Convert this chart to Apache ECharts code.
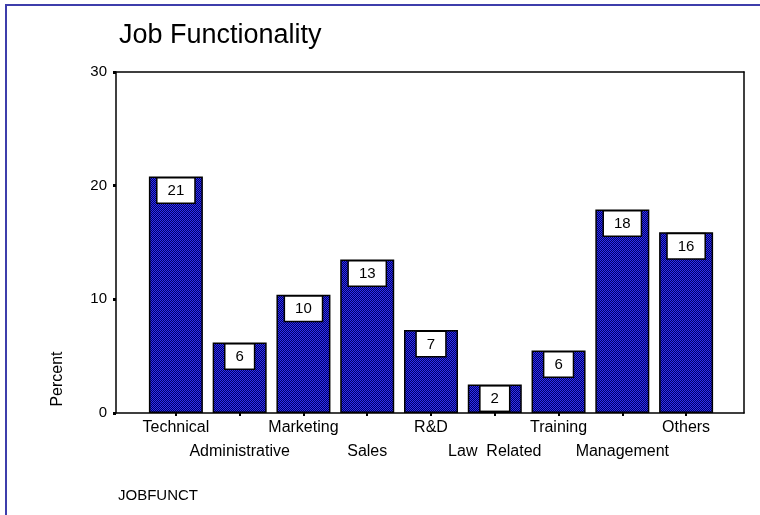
<!DOCTYPE html>
<html>
<head>
<meta charset="utf-8">
<script src="https://cdn.jsdelivr.net/npm/echarts@6/dist/echarts.min.js"></script>
<style>
  html, body { margin: 0; padding: 0; background: #fff; }
  #chart { width: 760px; height: 515px; }
</style>
</head>
<body>
<div id="chart"></div>
<script>
  // data
  var categories = ['Technical', 'Administrative', 'Marketing', 'Sales', 'R&D', 'Law  Related', 'Training', 'Management', 'Others'];
  var percents = [20.8, 6.2, 10.4, 13.5, 7.3, 2.5, 5.5, 17.9, 15.9];
  var shownLabels = ['21', '6', '10', '13', '7', '2', '6', '18', '16'];
  var yTicks = [0, 10, 20, 30];

  var font = 'Liberation Sans, Arial, sans-serif';

  // checkered blue fill like the old SPSS hatch
  var pat = document.createElement('canvas');
  pat.width = 2; pat.height = 2;
  var ctx = pat.getContext('2d');
  ctx.fillStyle = '#3030ec'; ctx.fillRect(0, 0, 2, 2);
  ctx.fillStyle = '#00006a'; ctx.fillRect(1, 0, 1, 1); ctx.fillRect(0, 1, 1, 1);

  var frameLine = { show: true, onZero: false, lineStyle: { color: '#000', width: 1.5 } };

  var myChart = echarts.init(document.getElementById('chart'));
  var option = {
    animation: false,
    title: [
      { text: 'Job Functionality', left: 119, top: 22, padding: 0,
        textStyle: { fontFamily: font, fontSize: 27, fontWeight: 'normal', color: '#000' } },
      { text: 'JOBFUNCT', left: 118, top: 488, padding: 0,
        textStyle: { fontFamily: font, fontSize: 15, fontWeight: 'normal', color: '#000' } }
    ],
    graphic: [
      { type: 'rect', shape: { x: 6, y: 5, width: 900, height: 700 },
        style: { fill: 'none', stroke: '#3d3dab', lineWidth: 2 }, silent: true },
      { type: 'text', x: 58, y: 379, rotation: Math.PI / 2,
        style: { text: 'Percent', fontFamily: font, fontSize: 16, fill: '#000', align: 'center', verticalAlign: 'middle' } }
    ],
    grid: [
      { left: 116, right: 16, top: 72, bottom: 102 },
      { left: 144, right: 42, top: 72, bottom: 102 }
    ],
    xAxis: [
      { gridIndex: 0, type: 'value', min: 0, max: 1, position: 'bottom',
        axisLine: frameLine, axisTick: { show: false }, axisLabel: { show: false }, splitLine: { show: false } },
      { gridIndex: 0, type: 'value', min: 0, max: 1, position: 'top',
        axisLine: frameLine, axisTick: { show: false }, axisLabel: { show: false }, splitLine: { show: false } },
      { gridIndex: 1, type: 'category', data: categories,
        axisLine: { show: false },
        axisTick: { show: true, alignWithLabel: true, length: 3, lineStyle: { color: '#000', width: 2 } },
        axisLabel: {
          interval: 0, margin: 3, fontFamily: font, fontSize: 16, color: '#000', lineHeight: 24,
          formatter: function (v, i) { return i % 2 === 1 ? '\n' + v : v; }
        } }
    ],
    yAxis: [
      { gridIndex: 0, type: 'value', min: 0, max: 30, interval: 10,
        axisLine: frameLine,
        axisTick: { show: true, inside: false, length: 3, lineStyle: { color: '#000', width: 3 } },
        axisLabel: { fontFamily: font, fontSize: 15, color: '#000', margin: 9,
          formatter: function (v) { return yTicks.indexOf(v) >= 0 ? String(v) : ''; } },
        splitLine: { show: false } },
      { gridIndex: 0, type: 'value', min: 0, max: 30, position: 'right',
        axisLine: frameLine, axisTick: { show: false }, axisLabel: { show: false }, splitLine: { show: false } },
      { gridIndex: 1, type: 'value', min: 0, max: 30, show: false }
    ],
    series: [{
      type: 'bar',
      xAxisIndex: 2,
      yAxisIndex: 2,
      barWidth: 54,
      data: percents,
      itemStyle: {
        color: { image: pat, repeat: 'repeat' },
        borderColor: '#000',
        borderWidth: 1.5
      },
      label: {
        show: true,
        position: 'insideTop',
        distance: 2,
        formatter: function (p) { return shownLabels[p.dataIndex]; },
        fontFamily: font,
        fontSize: 15,
        color: '#000',
        backgroundColor: '#fff',
        borderColor: '#000',
        borderWidth: 1.5,
        padding: [5, 10, 4, 10]
      }
    }]
  };
  option && myChart.setOption(option);
</script>
</body>
</html>
